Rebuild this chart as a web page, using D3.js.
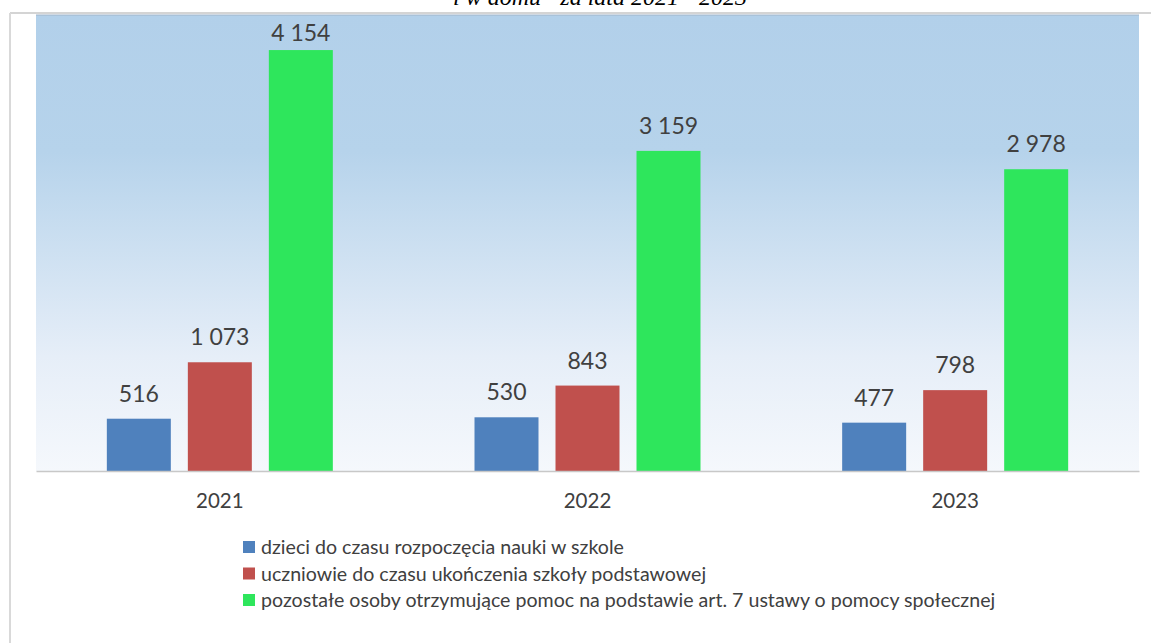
<!DOCTYPE html>
<html>
<head>
<meta charset="utf-8">
<script src="https://cdn.jsdelivr.net/npm/d3@7"></script>
<style>
  body { margin: 0; background: #fff; }
  svg { display: block; }
</style>
</head>
<body>
<div class="chart"></div>
<script>
// chart data
var years = ["2021", "2022", "2023"];
var seriesNames = [
  "dzieci do czasu rozpoczęcia nauki w szkole",
  "uczniowie do czasu ukończenia szkoły podstawowej",
  "pozostałe osoby otrzymujące pomoc na podstawie art. 7 ustawy o pomocy społecznej"
];
var seriesColors = ["#4f81bd", "#c0504d", "#2ee65c"];
var dzieci = [516, 530, 477];
var uczniowie = [1073, 843, 798];
var pozostale = [4154, 3159, 2978];
var titleTail = "i w domu\u201D za lata 2021 - 2023";

var allSeries = [dzieci, uczniowie, pozostale];

const w = 1151, h = 643;
const plot = { left: 36, right: 1139, top: 15, bottom: 471 };

const svg = d3.select(".chart").append("svg")
  .attr("width", w).attr("height", h);

// gradient for plot area
const defs = svg.append("defs");
const grad = defs.append("linearGradient")
  .attr("id", "bg").attr("x1", 0).attr("x2", 0).attr("y1", 0).attr("y2", 1);
grad.append("stop").attr("offset", "0%").attr("stop-color", "#b2d0ea");
grad.append("stop").attr("offset", "30%").attr("stop-color", "#b6d3eb");
grad.append("stop").attr("offset", "75%").attr("stop-color", "#e6eef8");
grad.append("stop").attr("offset", "100%").attr("stop-color", "#f5f8fc");

// chart frame
svg.append("line").attr("x1", 10).attr("x2", w).attr("y1", 13).attr("y2", 13)
  .attr("stroke", "#d4d4d4").attr("stroke-width", 2);
svg.append("line").attr("x1", 10).attr("x2", 10).attr("y1", 13).attr("y2", h)
  .attr("stroke", "#d9d9d9").attr("stroke-width", 2);

svg.append("rect")
  .attr("x", plot.left).attr("y", plot.top)
  .attr("width", plot.right - plot.left).attr("height", plot.bottom - plot.top)
  .attr("fill", "url(#bg)");
svg.append("line").attr("x1", plot.left).attr("x2", plot.right).attr("y1", 15).attr("y2", 15)
  .attr("stroke", "#9fb3c8").attr("stroke-width", 1);

// title (cut at top, as in the source)
svg.append("text")
  .attr("x", 600).attr("y", 5)
  .attr("text-anchor", "middle")
  .attr("font-family", "Liberation Serif, serif")
  .attr("font-style", "italic")
  .attr("font-size", "24px")
  .attr("fill", "#000")
  .text(titleTail);

// scales
const x0 = d3.scaleBand().domain(years).range([plot.left, plot.right]).padding(0);
const x1 = d3.scaleBand().domain([0, 1, 2]).range([-113, 113]).paddingInner(0.21);
const y = d3.scaleLinear().domain([0, 4500]).range([plot.bottom, plot.top]);

const fmt = (v) => d3.format(",")(v).replace(/,/g, " ");

const groups = svg.selectAll(".grp")
  .data(years)
  .enter().append("g")
  .attr("class", "grp")
  .attr("transform", (d) => "translate(" + (x0(d) + x0.bandwidth() / 2) + ",0)");

groups.selectAll("rect")
  .data((d, i) => allSeries.map((s, k) => ({ k: k, v: s[i] })))
  .enter().append("rect")
  .attr("x", (d) => x1(d.k))
  .attr("y", (d) => y(d.v))
  .attr("width", x1.bandwidth())
  .attr("height", (d) => plot.bottom - y(d.v))
  .attr("fill", (d) => seriesColors[d.k]);

// value labels, kept inside the plot area near the top
groups.selectAll("text.val")
  .data((d, i) => allSeries.map((s, k) => ({ k: k, v: s[i] })))
  .enter().append("text")
  .attr("class", "val")
  .attr("x", (d) => x1(d.k) + x1.bandwidth() / 2)
  .attr("y", (d) => Math.max(y(d.v) - 17, plot.top + 26))
  .attr("text-anchor", "middle")
  .attr("font-family", "Lato, sans-serif")
  .attr("font-size", "23px")
  .attr("fill", "#404040")
  .text((d) => fmt(d.v));

// x axis
const xAxis = d3.axisBottom(x0).tickSize(0).tickPadding(22);
const gx = svg.append("g")
  .attr("transform", "translate(0," + plot.bottom + ")")
  .call(xAxis);
gx.select(".domain").attr("stroke", "#c8c8c8").attr("stroke-width", 1.5);
gx.selectAll("text")
  .attr("font-family", "Lato, sans-serif")
  .attr("font-size", "20.5px")
  .attr("fill", "#404040");

// legend
const legend = svg.selectAll(".leg")
  .data(seriesNames)
  .enter().append("g")
  .attr("class", "leg")
  .attr("transform", (d, i) => "translate(243," + (541 + i * 26.5) + ")");
legend.append("rect")
  .attr("width", 12).attr("height", 12)
  .attr("fill", (d, i) => seriesColors[i]);
legend.append("text")
  .attr("x", 18).attr("y", 13)
  .attr("font-family", "Lato, sans-serif")
  .attr("font-size", "19.6px")
  .attr("fill", "#404040")
  .text((d) => d);
</script>
</body>
</html>
